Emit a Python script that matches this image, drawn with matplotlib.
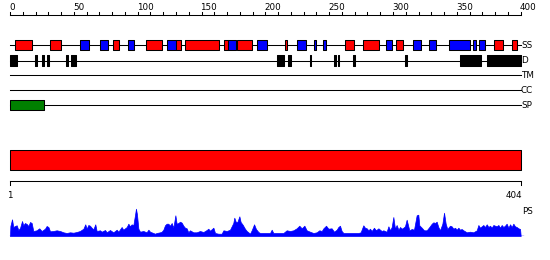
import numpy as np
import matplotlib
matplotlib.use("Agg")
import matplotlib.pyplot as plt

# ── Data ─────────────────────────────────────────────────────────────────────

SEQ_LEN = 404
RULER_MAX = 400

# secondary structure: (start, end, type)  H = helix (red), E = strand (blue)
ss_start = [4, 31.6, 55.1, 70.7, 80.9, 92.7, 106.8, 123, 130, 137.3, 167.9, 171,
            178, 193.5, 215.7, 225, 238.4, 245.4, 262.6, 276.8, 294.8, 302.6,
            315.9, 328.5, 344.1, 362.7, 367.6, 379.4, 393.5]
ss_end = [17.5, 40.2, 62.1, 76.5, 85.1, 97.4, 118.8, 130, 133.7, 164, 171, 176.8,
          189.8, 201.1, 217.2, 232.1, 239.9, 247.8, 269.7, 289.3, 299.5, 308.1,
          322.2, 333.9, 360.6, 364.8, 372.3, 386.4, 397.4]
ss_type = ['H', 'H', 'E', 'E', 'H', 'E', 'H', 'E', 'H', 'H', 'H', 'E',
           'H', 'E', 'H', 'E', 'E', 'E', 'H', 'H', 'E', 'H',
           'E', 'E', 'E', 'E', 'E', 'H', 'H']

# disorder segments
dis_start = [0, 19.6, 25, 28.7, 43.9, 47.8, 209, 218, 235, 254, 256.7, 268.5,
             309.4, 352.5, 373.4]
dis_end = [5.2, 20.9, 27, 30.8, 45.7, 51.7, 214.6, 220, 236, 255.4, 258, 270,
           310.7, 369, 400]

# signal peptide
sp_start = [0]
sp_end = [27]

# domain bar
dom_start = [1]
dom_end = [404]

# PS profile
ps_pos = [1, 1.3, 2.6, 3.6, 4.9, 6.3, 7.6, 8.9, 10.5, 11.5, 12.8, 14.2, 15.5, 16.8,
          18.1, 19.4, 22.0, 24.1, 26.0, 28.6, 29.9, 31.3, 32.6, 35.2, 37.8, 40.5,
          43.1, 45.7, 48.3, 51.0, 53.6, 56.2, 58.9, 60.4, 61.5, 62.8, 64.1, 65.4,
          66.8, 68.3, 69.4, 72.0, 73.3, 76.0, 77.3, 79.9, 82.5, 85.2, 86.5, 89.1,
          90.4, 93.1, 94.4, 95.7, 97.0, 98.3, 99.6, 100.4, 101.2, 102.3, 103.6,
          106.2, 108.8, 110.2, 111.5, 114.1, 115.4, 116.7, 119.4, 120.7, 122.0,
          123.3, 124.6, 125.9, 127.3, 128.6, 129.9, 131.5, 132.5, 133.8, 135.2,
          136.5, 137.8, 139.1, 140.4, 141.7, 143.0, 145.7, 148.3, 150.9, 153.6,
          156.2, 157.5, 158.8, 161.5, 162.8, 165.4, 168.0, 169.4, 172.0, 174.6,
          177.2, 178.0, 179.3, 180.4, 182.0, 183.0, 184.6, 186.4, 187.8, 189.1,
          190.4, 191.7, 193.6, 195.1, 197.0, 198.3, 200.9, 203.5, 206.2, 207.5,
          208.8, 211.4, 214.1, 216.7, 219.3, 222.0, 224.6, 227.2, 229.3, 231.2,
          233.3, 235.1, 237.7, 240.4, 243.0, 245.1, 247.0, 248.3, 250.4, 252.2,
          254.8, 256.7, 258.8, 260.1, 261.4, 262.7, 264.1, 266.7, 269.3, 272.0,
          275.9, 277.7, 279.8, 281.1, 282.5, 283.8, 285.1, 286.4, 288.2, 289.8,
          291.7, 293.0, 294.3, 295.6, 298.2, 299.6, 300.9, 302.2, 303.5, 304.8,
          306.1, 307.5, 308.8, 310.1, 311.4, 312.7, 314.0, 314.8, 316.1, 318.0,
          319.8, 321.9, 323.2, 324.0, 325.9, 327.7, 329.8, 331.9, 333.8, 335.1,
          336.4, 337.7, 339.0, 340.3, 342.2, 343.5, 344.8, 346.1, 348.2, 349.5,
          350.9, 352.2, 353.5, 354.8, 356.1, 357.4, 358.8, 361.4, 364.0, 366.6,
          369.3, 370.6, 371.9, 374.5, 375.8, 377.2, 378.5, 379.8, 381.1, 382.4,
          385.0, 386.4, 387.7, 389.0, 390.3, 391.6, 392.9, 394.3, 395.6, 396.9,
          398.2, 399.5, 400.8, 402.2, 403.5, 404]
ps_val = [0, 10, 16.7, 9, 10, 10.7, 6, 8, 15, 10.7, 13, 12, 10, 14,
          13, 5, 5.7, 7.7, 5, 7.3, 10, 9, 4.7, 5, 5.7, 5,
          3.7, 3, 3.7, 3.3, 4, 5, 7.3, 11.7, 7.3, 11, 10.3, 8.3,
          6.7, 11.7, 5, 5.7, 4.3, 6, 3.7, 6, 3.7, 6.3, 4.3, 9,
          6.3, 9, 12.3, 9.7, 11.7, 10.7, 20.7, 27.3, 21.7, 7.3, 4.3,
          5, 3.7, 6.3, 4.3, 3, 2.3, 3, 3.7, 4.3, 6.3,
          10.7, 12.3, 12.3, 10.3, 13, 8.3, 20.7, 12.3, 13, 14.3,
          13.3, 10.3, 8.3, 7.7, 3.7, 5.7, 3.7, 3.7, 5, 4,
          6, 7.3, 5.3, 8.3, 3, 2.3, 2.3, 5.7, 5, 6.3,
          13, 18.3, 13.7, 14, 19.7, 14, 11.3, 7.3, 5, 3.7,
          2.3, 5.7, 11.7, 7, 4, 3, 3, 3, 3, 6.3,
          3, 3, 3, 3, 5.7, 5, 5.7, 7.7, 10.3, 7.7,
          10.3, 5.7, 4.3, 3, 3.7, 5.7, 5, 7.7, 10.3, 7.3,
          7.7, 4.3, 6.3, 9, 10.3, 5, 3, 3, 3, 3,
          3, 3.7, 10.7, 8.3, 7.7, 5.7, 7.3, 5, 8.3, 5.7,
          7.7, 6.3, 5, 5.7, 4.3, 9.7, 5.7, 9, 19, 7.3,
          11, 6.3, 9, 7.3, 8.3, 9.7, 16.3, 12.3, 5.7, 7,
          6.3, 20.7, 21.3, 10.7, 8.3, 5.7, 5.7, 9, 12.3, 13.7,
          13, 14.3, 9, 5.7, 12.3, 23.3, 12.3, 7, 10.3, 9.7,
          7.3, 8.3, 6.3, 8.3, 6.3, 7, 5.7, 3.7, 4.3, 3.7,
          5.7, 11, 8.3, 11, 9, 11.7, 9, 10.3, 8.3, 11,
          9.7, 11, 8.3, 11, 9, 10.3, 12.3, 8.3, 11.7, 9,
          12.3, 9.7, 9, 7.7, 7, 0]

track_names = ['SS', 'D', 'TM', 'CC', 'SP']

# ── Layout (pixels in a 550x260 canvas) ──────────────────────────────────────

W, H = 550, 260
X0 = 10.0        # px of residue 0 (ruler) / 1 (bottom axis)
X_END = 520.7    # px of ruler 400 / residue 404
track_y = {'SS': 45, 'D': 60.5, 'TM': 75, 'CC': 90.3, 'SP': 105}
BOX_H = 10.5
LW = 0.75

fig = plt.figure(figsize=(W / 100, H / 100), dpi=100)

# top section: ruler scale 0..400
sc_top = (X_END - X0) / RULER_MAX
ax = fig.add_axes([0, 0, 1, 1])
ax.set_xlim(-X0 / sc_top, (W - X0) / sc_top)
ax.set_ylim(H, 0)
ax.axis('off')

# ruler
ax.plot([0, RULER_MAX], [15, 15], color='black', lw=LW)
for t in range(0, RULER_MAX + 1, 10):
    ax.plot([t, t], [15, 12], color='black', lw=LW)
for t in range(0, RULER_MAX + 1, 50):
    ax.text(t - 1 / sc_top, 7, str(t), ha='left', va='center', fontsize=6.3)

# track lines + labels
for name in track_names:
    y = track_y[name]
    ax.plot([0, RULER_MAX], [y, y], color='black', lw=LW, zorder=1)
    ax.text(RULER_MAX + 0.3 / sc_top, y, name, ha='left', va='center', fontsize=6.3)

# secondary structure boxes
ss_col = {'H': '#ff0000', 'E': '#0000ff'}
y = track_y['SS']
ax.broken_barh([(s, e - s) for s, e in zip(ss_start, ss_end)],
               (y - BOX_H / 2, BOX_H),
               facecolors=[ss_col[t] for t in ss_type],
               edgecolors='black', lw=LW, zorder=2)

# disorder
y = track_y['D']
ax.broken_barh([(s, e - s) for s, e in zip(dis_start, dis_end)],
               (y - BOX_H / 2, BOX_H), facecolors='black',
               edgecolors='black', lw=LW, zorder=2)

# signal peptide
y = track_y['SP']
ax.broken_barh([(s, e - s) for s, e in zip(sp_start, sp_end)],
               (y - BOX_H / 2, BOX_H), facecolors='#008000',
               edgecolors='black', lw=LW, zorder=2)

# bottom section: residue scale 1..404
sc_bot = (X_END - X0) / (SEQ_LEN - 1)
xlim_bot = (1 - X0 / sc_bot, 1 + (W - X0) / sc_bot)
ax2 = fig.add_axes([0, 0, 1, 1])
ax2.patch.set_alpha(0)
ax2.set_xlim(*xlim_bot)
ax2.set_ylim(H, 0)
ax2.axis('off')

ax2.broken_barh([(s, e - s) for s, e in zip(dom_start, dom_end)],
                (150, 20), facecolors='#ff0000', edgecolors='black', lw=LW)

ax2.plot([1, SEQ_LEN], [181, 181], color='black', lw=LW)
for t in [1, SEQ_LEN]:
    ax2.plot([t, t], [181, 185], color='black', lw=LW)
ax2.text(1, 195, '1', ha='center', va='center', fontsize=6.3)
ax2.text(SEQ_LEN + 1.5 / sc_bot, 195, str(SEQ_LEN), ha='right', va='center', fontsize=6.3)
ax2.text(SEQ_LEN + 1 / sc_bot, 211.5, 'PS', ha='left', va='center', fontsize=6.3)

# PS profile
ax3 = fig.add_axes([0, (H - 236) / H, 1, 30 / H])
ax3.patch.set_alpha(0)
ax3.set_xlim(*xlim_bot)
ax3.set_ylim(0, 30)
ax3.axis('off')
ax3.fill_between(ps_pos, 0, ps_val, color='#0000ff', lw=0.5)
ax3.plot([1, SEQ_LEN + 1.5], [0.3, 0.3], color='#0000ff', lw=1)

fig.savefig('out.png', dpi=100)
